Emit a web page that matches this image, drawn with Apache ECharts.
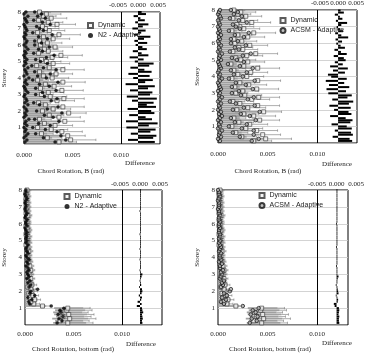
<!DOCTYPE html>
<html>
<head>
<meta charset="utf-8">
<script src="https://cdn.jsdelivr.net/npm/echarts@6/dist/echarts.min.js"></script>
<style>
  html, body { margin: 0; padding: 0; background: #fff; }
  #chart { width: 367px; height: 353px; }
</style>
</head>
<body>
<div id="chart"></div>
<script>
// storey levels of the records (one row per level), values in mrad
const storeys = [
  0.125, 0.25, 0.375, 0.5, 0.625, 0.75, 0.875, 1,
  1.125, 1.25, 1.375, 1.5, 1.625, 1.75, 1.875, 2,
  2.125, 2.25, 2.375, 2.5, 2.625, 2.75, 2.875, 3,
  3.125, 3.25, 3.375, 3.5, 3.625, 3.75, 3.875, 4,
  4.125, 4.25, 4.375, 4.5, 4.625, 4.75, 4.875, 5,
  5.125, 5.25, 5.375, 5.5, 5.625, 5.75, 5.875, 6,
  6.125, 6.25, 6.375, 6.5, 6.625, 6.75, 6.875, 7,
  7.125, 7.25, 7.375, 7.5, 7.625, 7.75, 7.875, 8
];

// ---- chord rotation B (top charts) ----
const dynTop = [
  3.6, 4.8, 2.4, 4.5, 1.8, 3.9, 2.8, 1.4,
  3.2, 2.1, 4.2, 1.6, 3.6, 2.6, 4.6, 1.9,
  3.0, 4.0, 2.2, 1.5, 3.4, 4.1, 2.7, 1.8,
  2.5, 3.9, 1.7, 3.1, 2.2, 4.0, 1.4, 2.9,
  2.0, 3.3, 1.6, 4.0, 2.6, 1.3, 3.0, 2.3,
  1.8, 2.9, 3.8, 1.5, 2.5, 2.1, 3.2, 1.7,
  2.4, 1.6, 3.0, 2.0, 3.6, 1.4, 2.6, 2.2,
  1.9, 3.4, 2.5, 1.5, 2.8, 2.0, 2.3, 1.6
];
const barTop = [
  3.9, 4.6, 2.9, 4.2, 2.4, 3.7, 3.1, 2.0,
  3.4, 2.6, 3.9, 2.2, 3.5, 2.9, 4.1, 2.4,
  3.2, 3.7, 2.6, 2.1, 3.3, 3.8, 2.9, 2.3,
  2.8, 3.6, 2.2, 3.2, 2.6, 3.6, 2.0, 3.0,
  2.4, 3.2, 2.1, 3.5, 2.8, 1.9, 3.0, 2.6,
  2.2, 2.9, 3.4, 2.0, 2.7, 2.4, 3.1, 2.1,
  2.6, 2.0, 2.9, 2.3, 3.2, 1.9, 2.7, 2.4,
  2.2, 3.0, 2.6, 1.9, 2.8, 2.3, 2.5, 2.0
];
const whiskTop = [
  5.4, 7.4, 3.9, 6.3, 3.0, 6.0, 4.5, 2.6,
  5.0, 3.6, 6.2, 2.8, 5.8, 4.1, 6.4, 3.2,
  4.8, 6.2, 3.6, 2.7, 5.2, 6.2, 4.4, 3.0,
  4.1, 6.1, 2.9, 4.9, 3.7, 6.3, 2.5, 4.6,
  3.4, 5.0, 2.8, 6.2, 4.2, 2.3, 4.7, 3.8,
  3.0, 4.5, 6.0, 2.6, 4.0, 3.5, 5.0, 2.9,
  3.9, 2.8, 4.7, 3.4, 5.8, 2.4, 4.2, 3.6,
  3.2, 5.3, 4.0, 2.6, 4.4, 3.3, 3.8, 2.7
];
const n2Top = [
  3.2, 4.3, 2.0, 3.8, 1.2, 3.4, 2.2, 0.9,
  2.7, 1.5, 3.6, 1.1, 3.0, 2.1, 3.9, 1.3,
  2.4, 3.5, 1.6, 1.0, 2.8, 3.4, 2.1, 1.2,
  1.9, 3.3, 1.2, 2.6, 1.6, 3.5, 0.9, 2.3,
  1.4, 2.7, 1.1, 3.3, 2.0, 0.8, 2.4, 1.7,
  1.2, 2.3, 3.1, 1.0, 1.9, 1.5, 2.6, 1.1,
  1.8, 1.1, 2.4, 1.5, 2.9, 0.9, 2.0, 1.6,
  1.3, 2.7, 1.9, 1.0, 2.2, 1.4, 1.8, 1.1
];
const n2TopLow = [
  0.1, 0.3, 0.0, 0.2, 0.4, 0.1, 0.2, 0.0,
  0.3, 0.1, 0.2, 0.5, 0.0, 0.2, 0.1, 0.3,
  0.2, 0.0, 0.4, 0.1, 0.3, 0.2, 0.0, 0.1,
  0.4, 0.2, 0.1, 0.0, 0.3, 0.1, 0.2, 0.5,
  0.0, 0.3, 0.2, 0.1, 0.4, 0.0, 0.2, 0.1,
  0.3, 0.1, 0.0, 0.2, 0.1, 0.4, 0.2, 0.0,
  0.2, 0.3, 0.1, 0.0, 0.2, 0.1, 0.3, 0.2,
  0.1, 0.0, 0.3, 0.2, 0.1, 0.4, 0.0, 0.2
];
const n2DiffTop = [
  4.2, -2.5, 3.8, 4.6, -1.8, 3.1, 4.4, -2.9,
  2.7, 4.9, -3.0, 3.5, 1.9, -2.2, 4.1, 3.3,
  -2.6, 4.5, 2.2, 3.9, -1.5, 4.7, -2.8, 3.0,
  3.6, -2.0, 2.5, 4.2, -3.1, 1.8, 3.7, -1.2,
  2.9, -2.4, 3.4, 1.6, -1.9, 2.8, 3.9, -0.8,
  1.4, -2.1, 2.6, 0.9, -1.3, 2.2, 1.1, -0.6,
  2.3, -0.9, 1.5, 3.1, -1.0, 0.8, 1.9, -1.4,
  1.2, 2.6, -0.7, 1.7, 0.6, -1.1, 2.0, 0.9
];
const acsmTop = [
  3.4, 4.1, 2.2, 3.6, 1.5, 3.6, 2.4, 1.1,
  2.9, 1.7, 3.8, 1.3, 3.2, 2.3, 4.2, 1.5,
  2.6, 3.7, 1.8, 1.2, 3.0, 3.6, 2.3, 1.4,
  2.1, 3.5, 1.4, 2.8, 1.8, 3.7, 1.1, 2.5,
  1.6, 2.9, 1.3, 3.5, 2.2, 1.0, 2.6, 1.9,
  1.4, 2.5, 3.3, 1.2, 2.1, 1.7, 2.8, 1.3,
  2.0, 1.3, 2.6, 1.7, 3.1, 1.1, 2.2, 1.8,
  1.5, 2.9, 2.1, 1.2, 2.4, 1.6, 2.0, 1.3
];
const acsmTopLow = [
  0.2, 0.0, 0.3, 0.1, 0.2, 0.4, 0.0, 0.2,
  0.1, 0.3, 0.0, 0.2, 0.4, 0.1, 0.3, 0.0,
  0.2, 0.1, 0.3, 0.0, 0.2, 0.4, 0.1, 0.2,
  0.0, 0.3, 0.2, 0.1, 0.0, 0.2, 0.4, 0.1,
  0.2, 0.0, 0.1, 0.3, 0.2, 0.1, 0.0, 0.3,
  0.1, 0.2, 0.4, 0.0, 0.2, 0.1, 0.3, 0.1,
  0.0, 0.2, 0.1, 0.3, 0.0, 0.2, 0.1, 0.0,
  0.2, 0.1, 0.0, 0.3, 0.2, 0.0, 0.1, 0.2
];
const acsmDiffTop = [
  3.9, 3.2, -1.5, 4.1, 3.6, -0.9, 3.8, 2.4,
  -1.8, 3.4, 4.0, 2.1, -2.2, 3.7, 2.9, -1.1,
  3.5, -2.4, 3.0, 4.2, -1.6, 2.6, 3.8, -2.7,
  2.2, -3.2, 3.1, -2.5, 1.7, -3.4, 2.4, -1.9,
  -2.8, 1.9, -1.4, 2.7, -2.2, 1.3, -0.9, 2.1,
  1.6, -1.2, 2.4, 0.8, -1.0, 1.9, 0.7, -0.5,
  1.1, -0.7, 2.8, 0.9, -0.8, 1.4, 0.6, -0.4,
  0.9, 2.5, -0.6, 1.2, 0.5, -0.9, 1.6, 0.7
];

// ---- chord rotation, bottom (lower charts) ----
const dynBot = [
  4.4, 3.6, 4.6, 3.9, 4.5, 3.7, 4.3, 4.4,
  1.8, 0.9, 0.6, 1.0, 0.5, 0.8, 0.4, 0.7,
  0.6, 0.3, 0.7, 0.5, 0.4, 0.6, 0.3, 0.5,
  0.4, 0.6, 0.3, 0.5, 0.2, 0.4, 0.3, 0.2,
  0.3, 0.2, 0.4, 0.2, 0.3, 0.1, 0.3, 0.2,
  0.2, 0.3, 0.1, 0.2, 0.3, 0.2, 0.1, 0.2,
  0.2, 0.1, 0.2, 0.3, 0.1, 0.2, 0.1, 0.2,
  0.1, 0.2, 0.1, 0.1, 0.2, 0.1, 0.1, 0.2
];
const barLoBot = [
  2.9, 3.1, 2.8, 3.2, 3.0, 2.9, 3.1, 3.0,
  0, 0, 0, 0, 0, 0, 0, 0,
  0, 0, 0, 0, 0, 0, 0, 0,
  0, 0, 0, 0, 0, 0, 0, 0,
  0, 0, 0, 0, 0, 0, 0, 0,
  0, 0, 0, 0, 0, 0, 0, 0,
  0, 0, 0, 0, 0, 0, 0, 0,
  0, 0, 0, 0, 0, 0, 0, 0
];
const barBot = [
  6.3, 6.0, 6.5, 6.1, 6.4, 5.9, 6.2, 6.0,
  2.2, 1.2, 0.9, 1.3, 0.8, 1.1, 0.6, 1.0,
  0.9, 0.5, 1.0, 0.7, 0.6, 0.8, 0.5, 0.7,
  0.6, 0.8, 0.5, 0.7, 0.4, 0.6, 0.5, 0.4,
  0.5, 0.4, 0.6, 0.4, 0.5, 0.3, 0.5, 0.4,
  0.4, 0.5, 0.3, 0.4, 0.5, 0.4, 0.3, 0.4,
  0.4, 0.3, 0.4, 0.5, 0.3, 0.4, 0.3, 0.4,
  0.3, 0.4, 0.3, 0.3, 0.4, 0.3, 0.3, 0.4
];
const whiskBot = [
  7.0, 6.6, 7.3, 6.8, 7.1, 6.5, 6.9, 6.7,
  2.6, 1.5, 1.1, 1.6, 1.0, 1.4, 0.8, 1.3,
  1.1, 0.7, 1.2, 0.9, 0.8, 1.0, 0.7, 0.9,
  0.8, 1.0, 0.7, 0.9, 0.6, 0.8, 0.7, 0.6,
  0.7, 0.6, 0.8, 0.6, 0.7, 0.5, 0.7, 0.6,
  0.6, 0.7, 0.5, 0.6, 0.7, 0.6, 0.5, 0.6,
  0.6, 0.5, 0.6, 0.7, 0.5, 0.6, 0.5, 0.6,
  0.5, 0.6, 0.5, 0.5, 0.6, 0.5, 0.5, 0.6
];
const n2Bot = [
  3.3, 3.8, 3.5, 3.9, 3.4, 3.7, 3.6, 4.0,
  2.7, 0.5, 0.4, 0.7, 0.3, 1.0, 0.5, 0.6,
  1.3, 0.4, 0.6, 0.3, 0.5, 0.2, 0.4, 0.3,
  0.2, 0.4, 0.3, 0.1, 0.3, 0.2, 0.4, 0.2,
  0.1, 0.3, 0.2, 0.1, 0.2, 0.3, 0.1, 0.2,
  0.1, 0.2, 0.1, 0.2, 0.1, 0.0, 0.2, 0.1,
  0.1, 0.2, 0.0, 0.1, 0.2, 0.1, 0.0, 0.1,
  0.1, 0.0, 0.1, 0.2, 0.1, 0.0, 0.1, 0.1
];
const n2DiffBot = [
  0.6, 0.5, 0.7, 0.6, 0.5, 0.8, 0.6, 0.5,
  -0.8, 0.4, -0.6, 0.3, 0.5, -0.3, 0.4, 0.6,
  0.5, -0.2, 0.3, 0.2, -0.1, 0.2, 0.4, 0.6,
  0.1, -0.1, 0.2, 0.1, 0.0, 0.1, -0.1, 0.1,
  0.1, 0.0, 0.1, -0.1, 0.1, 0.0, 0.1, 0.0,
  0.1, 0.0, -0.1, 0.1, 0.0, 0.1, 0.0, 0.1,
  0.0, 0.1, 0.0, 0.1, 0.0, -0.1, 0.1, 0.0,
  0.1, 0.0, 0.1, 0.0, 0.1, 0.0, 0.0, 0.1
];
const acsmBot = [
  3.2, 3.9, 3.4, 4.0, 3.3, 3.8, 3.5, 4.1,
  2.5, 0.6, 0.3, 0.8, 0.4, 0.9, 0.6, 1.2,
  1.3, 0.3, 0.5, 0.4, 0.6, 0.2, 0.3, 0.4,
  0.3, 0.5, 0.2, 0.2, 0.4, 0.1, 0.3, 0.2,
  0.2, 0.3, 0.1, 0.2, 0.3, 0.2, 0.1, 0.2,
  0.1, 0.2, 0.2, 0.1, 0.1, 0.2, 0.1, 0.1,
  0.2, 0.1, 0.1, 0.2, 0.1, 0.1, 0.0, 0.1,
  0.1, 0.1, 0.0, 0.1, 0.2, 0.1, 0.1, 0.0
];
const acsmDiffBot = [
  0.7, 0.6, 0.6, 0.7, 0.5, 0.6, 0.7, 0.6,
  -0.5, -0.7, 0.3, 0.4, 0.2, -0.2, 0.5, 0.4,
  0.3, 0.1, -0.2, 0.2, 0.1, 0.3, 0.5, 0.2,
  0.1, 0.0, 0.1, -0.1, 0.1, 0.0, 0.1, 0.0,
  0.0, 0.1, 0.0, 0.1, -0.1, 0.0, 0.1, 0.0,
  0.1, 0.0, 0.1, 0.0, 0.0, 0.1, 0.0, -0.1,
  0.0, 0.1, 0.0, 0.0, 0.1, 0.0, 0.1, 0.0,
  0.0, 0.1, 0.0, 0.1, 0.0, 0.0, 0.1, 0.0
];

const SERIF = "'Liberation Serif', 'DejaVu Serif', serif";
const SANS = "'Liberation Sans', Arial, sans-serif";
const TXT = '#222';

const panels = [
  { dyn: dynTop, lo: null, bar: barTop, whisk: whiskTop, adp: n2Top, adpLow: n2TopLow, diff: n2DiffTop,
    adpName: 'N2 - Adaptive', ring: false, title: 'Chord Rotation, B (rad)',
    x0: 21, x1: 160, top: 12, bottom: 144, xMax: 14.0, dxa: 118, dxb: 158,
    legLeft: 87, legTop: 22, nameGap: 16, titleX: 71, titleY: 171, diffX: 140, diffY: 163,
    xMargin: 7.5, dMargin: 3.5 },
  { dyn: dynTop, lo: null, bar: barTop, whisk: whiskTop, adp: acsmTop, adpLow: acsmTopLow, diff: acsmDiffTop,
    adpName: 'ACSM - Adaptive', ring: true, title: 'Chord Rotation, B (rad)',
    x0: 218, x1: 357, top: 10, bottom: 143, xMax: 14.0, dxa: 320, dxb: 360,
    legLeft: 279.5, legTop: 17, nameGap: 17, titleX: 268, titleY: 171, diffX: 337, diffY: 164,
    xMargin: 7.5, dMargin: 3.5 },
  { dyn: dynBot, lo: barLoBot, bar: barBot, whisk: whiskBot, adp: n2Bot, adpLow: null, diff: n2DiffBot,
    adpName: 'N2 - Adaptive', ring: false, title: 'Chord Rotation, bottom (rad)',
    x0: 22, x1: 162, top: 190, bottom: 325, xMax: 14.1, dxa: 120, dxb: 160,
    legLeft: 63.5, legTop: 193, nameGap: 17, titleX: 73, titleY: 349, diffX: 141, diffY: 344,
    xMargin: 5.5, dMargin: 2.2 },
  { dyn: dynBot, lo: barLoBot, bar: barBot, whisk: whiskBot, adp: acsmBot, adpLow: null, diff: acsmDiffBot,
    adpName: 'ACSM - Adaptive', ring: true, title: 'Chord Rotation, bottom (rad)',
    x0: 218, x1: 348, top: 190, bottom: 325, xMax: 13.1, dxa: 317, dxb: 357,
    legLeft: 258.5, legTop: 192, nameGap: 17, titleX: 270, titleY: 349, diffX: 337, diffY: 343,
    xMargin: 5.5, dMargin: 2.2 }
];

const radLabel = v => (v > 10.001 ? '' : (v / 1000).toFixed(3));

// horizontal rect between two x values at one storey level
function rectRender(color, h) {
  return function(params, api) {
    const y = api.value(2);
    const a = api.coord([api.value(0), y]);
    const b = api.coord([api.value(1), y]);
    let w = Math.abs(b[0] - a[0]);
    if (w < 0.8) w = 0.8;
    return {
      type: 'rect',
      shape: { x: Math.min(a[0], b[0]), y: a[1] - h / 2, width: w, height: h },
      style: { fill: color }
    };
  };
}

function whiskRender(params, api) {
  const y = api.value(2);
  const a = api.coord([api.value(0), y]);
  const b = api.coord([api.value(1), y]);
  const st = { stroke: '#777', lineWidth: 0.6 };
  return {
    type: 'group',
    children: [
      { type: 'line', shape: { x1: a[0], y1: a[1], x2: b[0], y2: b[1] }, style: st },
      { type: 'line', shape: { x1: b[0], y1: b[1] - 1.2, x2: b[0], y2: b[1] + 1.2 }, style: st }
    ]
  };
}

const grid = [], xAxis = [], yAxis = [], series = [], legend = [], graphic = [];

panels.forEach((p, i) => {
  const gm = i * 2, gd = i * 2 + 1;
  const h = p.bottom - p.top;
  grid.push({ left: p.x0, top: p.top, width: p.x1 - p.x0, height: h, show: true,
    borderColor: '#000', borderWidth: 1, backgroundColor: 'transparent' });
  grid.push({ left: p.dxa, top: p.top, width: p.dxb - p.dxa, height: h, show: false });

  xAxis.push({
    gridIndex: gm, type: 'value', min: 0, max: p.xMax, interval: 5,
    axisLine: { show: false }, axisTick: { show: false }, splitLine: { show: false },
    axisLabel: { fontFamily: SERIF, fontSize: 7, color: TXT, margin: p.xMargin,
      showMaxLabel: false, formatter: radLabel }
  });
  xAxis.push({
    gridIndex: gd, type: 'value', position: 'top', min: -5, max: 5, interval: 5,
    axisLine: { show: false }, axisTick: { show: false }, splitLine: { show: false },
    axisLabel: { fontFamily: SERIF, fontSize: 7, color: TXT, margin: p.dMargin,
      showMinLabel: true, showMaxLabel: true, formatter: radLabel }
  });
  yAxis.push({
    gridIndex: gm, type: 'value', min: 0, max: 8, interval: 1,
    name: 'Storey', nameLocation: 'middle', nameRotate: 90, nameGap: p.nameGap,
    nameTextStyle: { fontFamily: SERIF, fontSize: 7, color: TXT },
    axisLine: { show: false }, axisTick: { show: false },
    splitLine: { lineStyle: { color: '#c8c8c8', width: 0.8 } },
    axisLabel: { fontFamily: SERIF, fontSize: 7, color: TXT, margin: 3,
      formatter: v => (v === 0 ? '' : String(v)) }
  });
  yAxis.push({ gridIndex: gd, type: 'value', min: 0, max: 8, show: false });

  const adpStyle = p.ring
    ? { color: '#b0b0b0', borderColor: '#111', borderWidth: 0.9 }
    : { color: '#000' };

  series.push({
    type: 'custom', xAxisIndex: gm, yAxisIndex: gm, clip: true, silent: true,
    renderItem: rectRender('#a0a0a0', 1.8),
    data: storeys.map((y, k) => [p.lo ? p.lo[k] : 0, p.bar[k], y])
  });
  series.push({
    type: 'custom', xAxisIndex: gm, yAxisIndex: gm, clip: true, silent: true,
    renderItem: whiskRender,
    data: storeys.map((y, k) => [p.bar[k], p.whisk[k], y])
  });
  series.push({
    type: 'scatter', name: 'Dynamic', xAxisIndex: gm, yAxisIndex: gm,
    symbol: 'rect', symbolSize: 4,
    itemStyle: { color: '#f4f4f4', borderColor: '#333', borderWidth: 0.8 },
    data: storeys.map((y, k) => [p.dyn[k], y]),
    markLine: { silent: true, symbol: 'none', label: { show: false },
      lineStyle: { color: '#000', width: 1, type: 'solid' }, data: [{ xAxis: 10 }] }
  });
  series.push({
    type: 'scatter', name: p.adpName, xAxisIndex: gm, yAxisIndex: gm,
    symbol: 'circle', symbolSize: 3.5, itemStyle: adpStyle,
    data: storeys.map((y, k) => [p.adp[k], y])
  });
  if (p.adpLow) {
    series.push({
      type: 'scatter', name: p.adpName, xAxisIndex: gm, yAxisIndex: gm,
      symbol: 'circle', symbolSize: 3.5, itemStyle: adpStyle,
      data: storeys.map((y, k) => [p.adpLow[k], y])
    });
  }
  series.push({
    type: 'custom', xAxisIndex: gd, yAxisIndex: gd, silent: true,
    renderItem: rectRender('#000', 2.0),
    data: storeys.map((y, k) => [0, p.diff[k], y])
  });

  legend.push({
    left: p.legLeft, top: p.legTop, padding: 0, orient: 'vertical',
    itemWidth: 5, itemHeight: 5, itemGap: 3,
    selectedMode: false, textStyle: { fontFamily: SANS, fontSize: 7, color: TXT },
    data: [{ name: 'Dynamic', icon: 'rect' }, { name: p.adpName, icon: 'circle' }]
  });

  graphic.push({ type: 'text', x: p.titleX, y: p.titleY, silent: true,
    style: { text: p.title, fontFamily: SERIF, fontSize: 7, fill: TXT,
      textAlign: 'center', textVerticalAlign: 'middle' } });
  graphic.push({ type: 'text', x: p.diffX, y: p.diffY, silent: true,
    style: { text: 'Difference', fontFamily: SERIF, fontSize: 7, fill: TXT,
      textAlign: 'center', textVerticalAlign: 'middle' } });
});

const myChart = echarts.init(document.getElementById('chart'));
myChart.setOption({
  animation: false,
  backgroundColor: '#fff',
  grid, xAxis, yAxis, series, legend, graphic
});
</script>
</body>
</html>
